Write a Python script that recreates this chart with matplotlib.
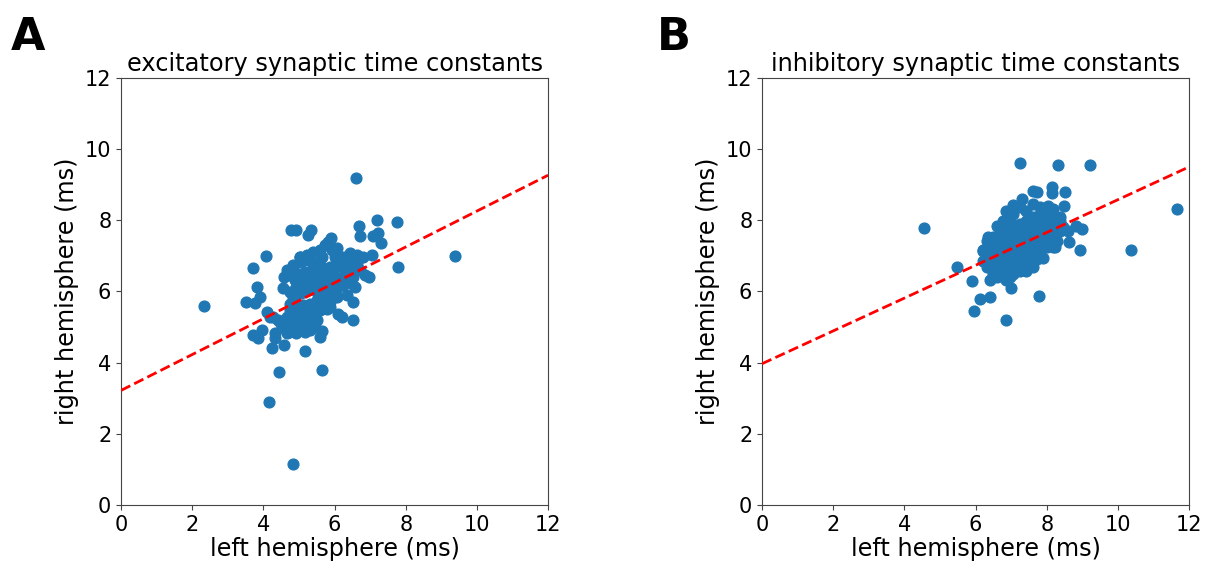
import matplotlib.pyplot as plt
import numpy as np

# excitatory time constants (ms): left vs right hemisphere
exc_left = [6.60, 2.34, 9.38, 4.82, 4.16, 4.44, 5.65, 5.17, 7.76, 7.78, 7.18, 6.69,
            4.78, 4.93, 5.33, 5.26, 7.23, 7.07, 7.30, 6.71, 5.89, 4.08, 3.72, 3.83,
            3.90, 3.51, 3.76, 6.53, 6.97, 6.20, 6.10, 6.53, 6.34, 3.70, 3.86, 3.95,
            4.23, 4.59, 4.33, 4.33, 4.09, 4.19, 4.47, 4.73, 4.93, 5.17, 5.59, 5.66,
            4.56, 4.58, 4.65, 5.03, 7.04,
            5.03, 5.22, 5.40, 5.59, 5.73, 5.82, 6.06, 6.25, 6.43, 6.62, 6.81, 6.62,
            6.34, 6.06, 5.87, 5.64, 5.45, 5.26, 5.07, 4.84, 4.75, 4.93, 5.17, 5.36,
            5.59, 5.78, 5.96, 6.20, 6.43, 6.71, 6.85, 6.53, 6.34, 6.15, 5.96, 5.78,
            5.54, 5.31, 5.12, 4.93, 4.75, 4.84, 5.07, 5.26, 5.50, 5.68, 5.87, 6.06,
            6.25, 6.43, 6.57, 6.06, 5.87, 5.68, 5.50, 5.31, 5.12, 4.93, 4.75, 4.65,
            4.84, 5.03, 5.22, 5.40, 5.59, 5.78, 5.87, 5.50, 5.31, 5.12, 4.93, 4.75,
            4.65, 5.03, 5.31, 5.45, 4.42, 4.28, 4.51, 4.75, 4.89, 5.17, 5.40, 5.64,
            5.92, 6.01]
exc_right = [9.18, 5.59, 6.99, 1.14, 2.89, 3.75, 3.78, 4.33, 7.94, 6.69, 8.00, 7.85,
             7.73, 7.73, 7.72, 7.58, 7.65, 7.56, 7.35, 7.56, 7.49, 7.00, 6.65, 6.13,
             5.85, 5.71, 5.69, 5.20, 6.40, 5.29, 5.38, 5.71, 5.90, 4.78, 4.68, 4.92,
             4.42, 4.49, 4.82, 4.68, 5.43, 5.29, 5.15, 4.87, 4.82, 4.87, 4.73, 4.89,
             6.09, 6.41, 6.60, 6.97, 7.02,
             6.98, 7.02, 7.12, 7.16, 7.30, 7.40, 7.21, 6.98, 7.07, 7.02, 6.98, 6.79,
             6.88, 6.79, 6.69, 6.69, 6.79, 6.88, 6.84, 6.74, 6.46, 6.51, 6.55, 6.51,
             6.46, 6.51, 6.60, 6.69, 6.65, 6.60, 6.46, 6.41, 6.46, 6.37, 6.32, 6.27,
             6.23, 6.27, 6.23, 6.13, 5.99, 5.85, 5.95, 6.04, 5.99, 5.95, 5.99, 6.09,
             6.18, 6.23, 6.13, 5.85, 5.71, 5.76, 5.76, 5.66, 5.62, 5.57, 5.48, 5.29,
             5.24, 5.34, 5.38, 5.43, 5.48, 5.52, 5.57, 5.20, 5.10, 5.06, 5.10, 5.01,
             4.82, 4.92, 4.92, 5.01, 5.20, 5.29, 5.01, 5.66, 6.32, 6.41, 6.65, 6.98,
             7.16, 6.98]

# inhibitory time constants (ms)
inh_left = [4.56, 5.47, 5.89, 5.96, 6.12, 6.42, 6.87, 6.99, 7.78, 7.25, 8.32, 9.23,
            11.67, 10.38, 8.93, 8.63, 8.98, 8.82, 8.60, 8.48, 8.51, 8.14, 8.15, 7.62,
            7.73, 7.32, 7.06, 6.59, 6.34, 6.22, 7.90, 7.53, 7.28, 8.09, 8.23,
            6.31, 6.50, 6.69, 6.87, 7.06, 7.25, 7.43, 7.62, 7.81, 8.00, 8.18, 8.37,
            8.28, 8.09, 7.90, 7.72, 7.53, 7.34, 7.15, 6.97, 6.78, 6.59, 6.40, 6.22,
            6.31, 6.50, 6.69, 6.87, 7.06, 7.25, 7.43, 7.62, 7.81, 8.00, 8.18, 8.37,
            8.18, 8.00, 7.81, 7.62, 7.43, 7.25, 7.06, 6.87, 6.69, 6.50, 6.40, 6.59,
            6.78, 6.97, 7.15, 7.34, 7.53, 7.72, 6.97, 6.87, 7.06, 7.25, 7.43, 7.62,
            7.81, 8.04, 8.18, 8.37, 8.46, 6.97, 6.78, 7.06, 7.72, 8.04, 8.28, 8.18,
            6.22, 6.40, 6.54, 6.73, 6.92, 7.29, 7.48, 7.67, 7.86, 6.69, 7.06, 7.43,
            7.81, 7.25, 7.06, 6.87, 7.62, 7.43]
inh_right = [7.78, 6.68, 6.29, 5.44, 5.79, 5.84, 5.20, 6.10, 5.88, 9.60, 9.56, 9.56,
             8.32, 7.18, 7.17, 7.40, 7.76, 7.85, 7.71, 8.39, 8.79, 8.93, 8.76, 8.83,
             8.79, 8.60, 8.44, 7.85, 7.54, 7.17, 6.94, 6.78, 6.61, 7.29, 7.26,
             7.43, 7.52, 7.62, 7.71, 7.80, 7.90, 7.99, 8.08, 8.18, 8.27, 8.18, 8.08,
             7.90, 7.80, 7.71, 7.62, 7.52, 7.43, 7.34, 7.24, 7.15, 7.06, 6.96, 6.87,
             6.68, 6.77, 6.87, 6.96, 7.06, 7.15, 7.24, 7.34, 7.43, 7.52, 7.62, 7.71,
             7.43, 7.24, 7.15, 7.06, 6.96, 6.87, 6.77, 6.68, 6.59, 6.49, 6.31, 6.40,
             6.49, 6.54, 6.63, 6.73, 6.82, 6.92, 6.40, 8.27, 8.18, 8.37, 8.27, 8.46,
             8.37, 8.41, 8.32, 7.99, 7.80, 7.99, 7.99, 7.62, 7.99, 7.99, 7.43, 7.24,
             7.15, 7.24, 7.29, 7.43, 7.43, 7.62, 7.76, 7.80, 7.90, 7.15, 7.43, 7.43,
             7.71, 6.59, 6.49, 6.31, 6.68, 6.59]

# fitted lines (intercept, slope)
exc_fit = (3.22, 0.504)
inh_fit = (3.97, 0.461)

titles = ['excitatory synaptic time constants', 'inhibitory synaptic time constants']
letters = ['A', 'B']

fig = plt.figure(figsize=(12.08, 5.69), dpi=100)
ax1 = fig.add_axes([0.1002, 0.1125, 0.3535, 0.7504])
ax2 = fig.add_axes([0.6308, 0.1125, 0.3535, 0.7504])

panels = [(ax1, exc_left, exc_right, exc_fit), (ax2, inh_left, inh_right, inh_fit)]
for i, (ax, xs, ys, fit) in enumerate(panels):
    ax.scatter(xs, ys, s=60, color='#1f77b4', zorder=2)
    ax.axline((0, fit[0]), slope=fit[1], color='red', linestyle='--', linewidth=2, zorder=3)
    ax.set_xlim(0, 12)
    ax.set_ylim(0, 12)
    ax.set_xticks(np.arange(0, 13, 2))
    ax.set_yticks(np.arange(0, 13, 2))
    ax.tick_params(labelsize=15, color='#444444')
    for sp in ax.spines.values():
        sp.set_color('#444444')
    ax.set_xlabel('left hemisphere (ms)', fontsize=17.3, labelpad=2)
    ax.set_ylabel('right hemisphere (ms)', fontsize=17.3)
    ax.set_title(titles[i], fontsize=17.3, pad=5)

fig.text(0.009, 0.912, letters[0], fontsize=32, fontweight='heavy')
fig.text(0.544, 0.912, letters[1], fontsize=32, fontweight='heavy')

fig.savefig('out.png', dpi=100)
